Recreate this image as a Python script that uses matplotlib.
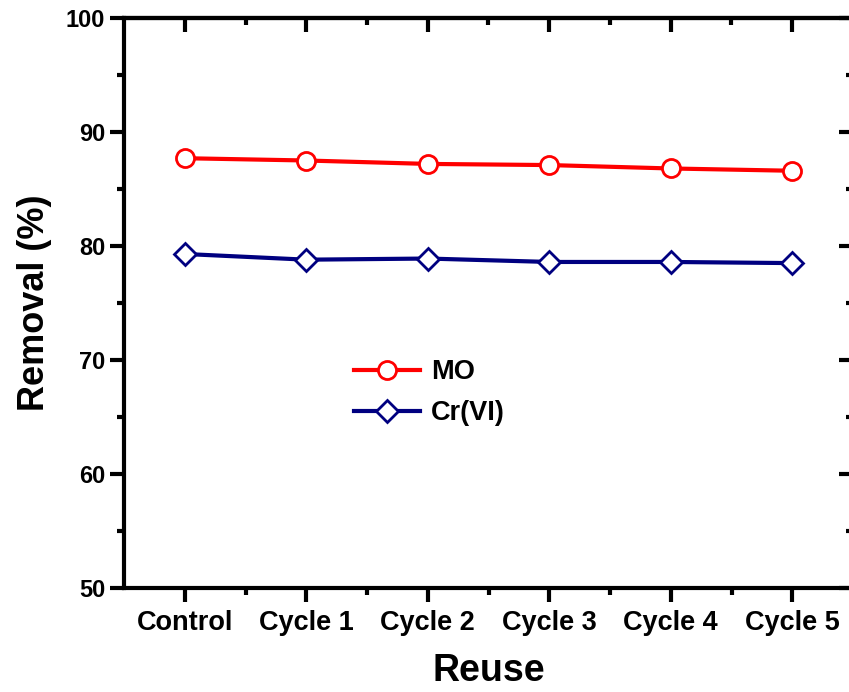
import matplotlib
matplotlib.use('Agg')
import matplotlib.pyplot as plt
from matplotlib.ticker import MultipleLocator, FixedLocator

categories = ['Control', 'Cycle 1', 'Cycle 2', 'Cycle 3', 'Cycle 4', 'Cycle 5']
mo = [87.7, 87.5, 87.2, 87.1, 86.8, 86.6]
cr = [79.3, 78.8, 78.9, 78.6, 78.6, 78.5]

plt.rcParams['font.family'] = ['Liberation Sans', 'DejaVu Sans']
plt.rcParams['font.weight'] = 'bold'

fig = plt.figure(figsize=(8.49, 6.92), dpi=100)
ax = fig.add_axes([124/849, 1 - 588/692, (853-124)/849, (588-18)/692])

x = list(range(len(categories)))
ax.plot(x, mo, color='#ff0000', lw=3, marker='o', ms=13, mfc='white',
        mec='#ff0000', mew=2, label='MO', clip_on=False)
ax.plot(x, cr, color='#000080', lw=3, marker='D', ms=11, mfc='white',
        mec='#000080', mew=2, label='Cr(VI)', clip_on=False)

ax.set_xlim(-0.5, 5.5)
ax.set_ylim(50, 100)
ax.set_xticks(x)
ax.set_xticklabels(categories)
ax.xaxis.set_minor_locator(FixedLocator([i + 0.5 for i in x[:-1]]))
ax.yaxis.set_major_locator(MultipleLocator(10))
ax.yaxis.set_minor_locator(MultipleLocator(5))

for s in ax.spines.values():
    s.set_linewidth(3)

ax.tick_params(axis='both', which='major', width=3, length=10)
ax.tick_params(axis='both', which='minor', width=3, length=5)
ax.tick_params(axis='x', which='major', labelsize=19.5, pad=6)
ax.tick_params(axis='y', which='major', labelsize=17)
ax.tick_params(axis='x', which='both', direction='out', top=False)
ax.tick_params(axis='y', which='both', direction='out', right=False)

# inward ticks on top and right edges
for pos in ('top', 'right'):
    sec = ax.secondary_xaxis('top') if pos == 'top' else ax.secondary_yaxis('right')
    axis = sec.xaxis if pos == 'top' else sec.yaxis
    if pos == 'top':
        sec.set_xticks(x)
        sec.xaxis.set_minor_locator(FixedLocator([i + 0.5 for i in x[:-1]]))
    else:
        sec.set_yticks([50, 60, 70, 80, 90, 100])
        sec.yaxis.set_minor_locator(MultipleLocator(5))
    sec.tick_params(which='major', direction='in', width=3, length=10, labelsize=0)
    sec.tick_params(which='minor', direction='in', width=3, length=5)
    axis.set_ticklabels([])
    sec.spines[pos].set_linewidth(3)

for lab in ax.get_xticklabels() + ax.get_yticklabels():
    lab.set_fontweight('bold')

ax.set_xlabel('Reuse', fontsize=27, fontweight='bold', labelpad=12)
ax.set_ylabel('Removal (%)', fontsize=26, fontweight='bold', labelpad=10)

ax.legend(loc='upper left', bbox_to_anchor=(0.282, 0.444), frameon=False,
          handlelength=2.45, labelspacing=0.55, handletextpad=0.4,
          prop={'weight': 'bold', 'size': 19.5})

fig.savefig('out.png', dpi=100)
